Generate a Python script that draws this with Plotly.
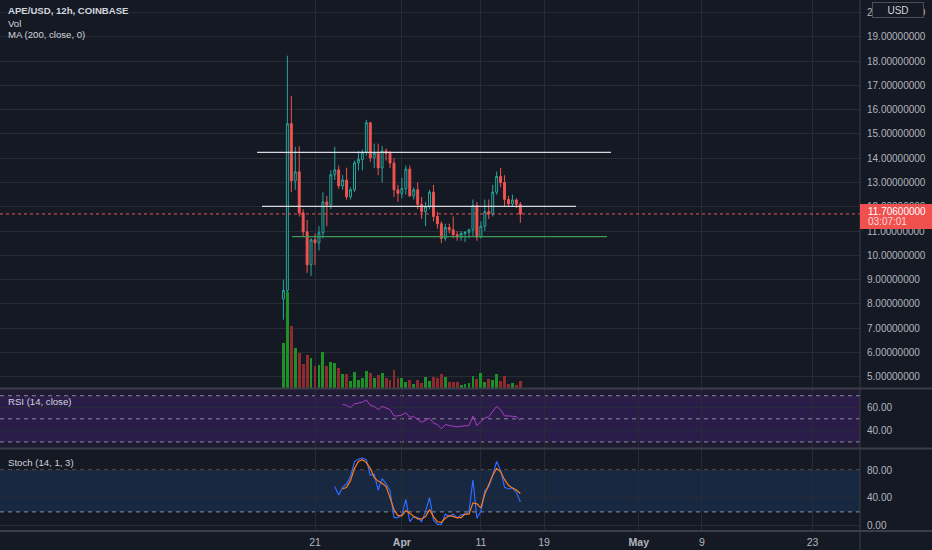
import plotly.graph_objects as go
import pandas as pd

# ---------------- data ----------------
times = pd.date_range("2022-03-17 00:00", periods=61, freq="12h")

opens = [8.20, 8.55, 15.42, 13.07, 13.44, 11.75, 10.97, 9.61, 10.64, 10.52,
         10.93, 12.20, 12.08, 13.32, 13.52, 12.86, 13.10, 12.41, 12.70, 13.81,
         13.95, 14.25, 15.46, 14.02, 14.20, 13.60, 14.30, 14.20, 13.80, 12.70,
         12.55, 12.75, 13.55, 12.45, 12.70, 12.10, 11.80, 12.00, 12.60, 11.60,
         11.30, 10.70, 11.15, 11.05, 10.85, 10.75, 10.90, 10.95, 11.05, 12.05,
         10.75, 11.20, 11.80, 11.70, 12.60, 13.25, 13.00, 12.30, 12.12, 12.28,
         12.10]
highs = [9.00, 18.22, 16.57, 14.47, 14.50, 11.90, 11.46, 10.70, 10.90, 11.20,
         12.60, 12.45, 13.50, 14.47, 13.70, 13.30, 13.61, 12.80, 13.90, 14.30,
         14.35, 15.58, 15.50, 14.60, 14.60, 14.50, 14.40, 14.30, 14.00, 12.90,
         13.20, 13.70, 13.70, 12.80, 13.00, 12.40, 12.20, 12.70, 12.90, 11.80,
         11.40, 11.30, 11.30, 11.60, 11.00, 11.00, 11.00, 11.10, 12.30, 12.20,
         11.40, 12.30, 12.30, 12.90, 13.45, 13.60, 13.30, 12.45, 12.50, 12.35,
         12.20]
lows = [7.35, 8.40, 12.60, 12.70, 11.60, 10.80, 9.28, 9.15, 9.60, 10.20,
        10.70, 11.20, 11.90, 13.10, 12.75, 12.70, 12.29, 12.30, 12.60, 13.50,
        13.50, 14.10, 13.85, 13.60, 13.30, 13.00, 13.90, 13.60, 12.40, 12.20,
        12.35, 12.50, 12.40, 12.30, 11.90, 11.50, 11.20, 11.90, 11.40, 11.10,
        10.50, 10.60, 10.90, 10.70, 10.60, 10.60, 10.55, 10.70, 10.80, 10.60,
        10.70, 11.00, 11.50, 11.60, 12.50, 12.80, 12.00, 12.00, 12.00, 11.95,
        11.34]
closes = [8.55, 15.42, 13.07, 13.44, 11.75, 10.97, 9.61, 10.64, 10.52, 10.93,
          12.20, 12.08, 13.32, 13.52, 12.86, 13.10, 12.41, 12.70, 13.81, 13.95,
          14.25, 15.46, 14.02, 14.20, 13.60, 14.30, 14.20, 13.80, 12.70, 12.55,
          12.75, 13.55, 12.45, 12.70, 12.10, 11.80, 12.00, 12.60, 11.60, 11.30,
          10.70, 11.15, 11.05, 10.85, 10.75, 10.90, 10.95, 11.05, 12.05, 10.75,
          11.20, 11.80, 11.70, 12.60, 13.25, 13.00, 12.30, 12.12, 12.28, 12.10,
          11.706]
volumes = [4.5, 9.6, 6.2, 4.0, 3.5, 2.4, 3.3, 3.0, 2.2, 2.3,
           3.6, 2.2, 2.6, 2.5, 2.0, 1.4, 1.4, 0.7, 1.6, 0.8,
           1.0, 1.7, 1.5, 1.0, 1.3, 1.5, 1.0, 0.8, 1.8, 1.0,
           1.0, 0.6, 0.8, 0.4, 0.8, 0.5, 1.1, 0.7, 1.1, 1.0,
           1.4, 1.1, 0.6, 0.6, 0.6, 0.3, 0.4, 0.5, 1.2, 0.9,
           1.5, 0.6, 0.9, 0.8, 1.4, 0.7, 1.2, 0.4, 0.5, 0.3,
           0.7]

rsi_start = 15
rsi_values = [62.5, 61.7, 59.7, 63.0, 63.6, 64.4, 66.4, 61.7, 60.8, 58.0,
              60.8, 59.7, 58.0, 52.5, 52.5, 53.3, 55.3, 51.4, 51.9, 49.7,
              47.0, 48.6, 50.6, 46.4, 45.0, 41.4, 45.0, 44.2, 43.6, 43.0,
              43.6, 44.2, 44.2, 52.5, 44.2, 47.8, 50.6, 51.9, 56.1, 60.8,
              58.0, 52.5, 52.5, 52.5, 51.9, 48.6]

stoch_k_start = 13
stoch_k = [56.3, 44.4, 55.3, 60.3, 71.1, 92.3, 95.8, 97.3, 94.8, 72.6,
           74.1, 51.4, 67.7, 60.3, 50.4, 11.9, 11.9, 15.8, 38.0, 5.9,
           13.3, 11.9, 5.9, 20.7, 40.5, 8.4, 2.0, 2.0, 16.8, 13.3,
           16.8, 10.9, 15.8, 16.8, 20.7, 66.2, 10.9, 20.7, 50.4, 56.3,
           72.6, 92.3, 80.0, 55.3, 52.9, 54.4, 47.9, 34.5]
stoch_d_start = 15
stoch_d = [52.9, 55.3, 65.2, 82.5, 92.3, 94.8, 90.8, 82.5, 69.2, 64.2,
           61.2, 56.3, 40.5, 23.2, 14.8, 14.8, 21.8, 18.2, 13.3, 9.9,
           9.9, 13.3, 23.2, 13.3, 5.9, 4.9, 10.9, 14.8, 13.3, 11.9,
           11.9, 16.8, 16.8, 33.0, 31.6, 25.7, 45.5, 60.3, 72.6, 82.5,
           77.5, 66.2, 58.2, 54.4, 51.4, 46.4]

price_ticks = [5, 6, 7, 8, 9, 10, 11, 12, 13, 14, 15, 16, 17, 18, 19, 20]
rsi_ticks = [40, 60]
stoch_ticks = [0, 40, 80]
date_ticks = ["2022-03-21", "2022-04-01", "2022-04-11", "2022-04-19",
              "2022-05-01", "2022-05-09", "2022-05-23"]
date_labels = ["21", "<b>Apr</b>", "11", "19", "<b>May</b>", "9", "23"]

last_price = 11.706
countdown = "03:07:01"

# drawn horizontal levels: (start, end, price, colour)
level_starts = ["2022-03-13 16:00", "2022-03-14 07:00", "2022-03-18 02:00"]
level_ends = ["2022-04-27 11:30", "2022-04-23 01:00", "2022-04-26 23:30"]
level_prices = [14.24, 12.02, 10.77]
level_colors = ["#d8dae0", "#d8dae0", "#3d9b55"]

# ---------------- style ----------------
BG = "#151924"
GRID = "#272b36"
TXT = "#b2b5be"
LEG = "#d1d4dc"
UP = "#26a69a"
DN = "#ef5350"
FONT = "Liberation Sans, Arial, sans-serif"

W, H = 932, 550
ML, MR, MT, MB = 0, 72, 0, 19
PW, PH = W - ML - MR, H - MT - MB

main_dom = [0.2684, 1.0]
rsi_dom = [0.1554, 0.2684]
sto_dom = [0.0, 0.1554]
price_rng = [4.518, 20.515]
rsi_rng = [24.3, 76.3]
sto_rng = [-7.4, 111.0]
vol_rng = [0, 38.85]
x_rng = ["2022-02-09 02:40", "2022-05-29 00:15"]


def paper_y(v, dom, rng):
    return dom[0] + (v - rng[0]) / (rng[1] - rng[0]) * (dom[1] - dom[0])


def py_px(px):
    return 1 - px / PH


fig = go.Figure()

vol_colors = ["#1f8f27" if c >= o else "#8f2a2d" for o, c in zip(opens, closes)]
fig.add_trace(go.Bar(x=times, y=volumes, marker_color=vol_colors, marker_line_width=0,
                     width=12 * 3600 * 1000 * 0.72, xaxis="x", yaxis="y2",
                     hoverinfo="skip", showlegend=False))

fig.add_trace(go.Candlestick(
    x=times, open=opens, high=highs, low=lows, close=closes,
    increasing=dict(line=dict(color=UP, width=1), fillcolor=BG),
    decreasing=dict(line=dict(color=DN, width=1), fillcolor=DN),
    whiskerwidth=0, xaxis="x", yaxis="y", showlegend=False))

fig.add_trace(go.Scatter(x=times[rsi_start:rsi_start + len(rsi_values)], y=rsi_values,
                         mode="lines", line=dict(color="#a93fc0", width=1),
                         xaxis="x2", yaxis="y3", showlegend=False))

fig.add_trace(go.Scatter(x=times[stoch_k_start:stoch_k_start + len(stoch_k)], y=stoch_k,
                         mode="lines", line=dict(color="#2f6bff", width=1.2),
                         xaxis="x3", yaxis="y4", showlegend=False))
fig.add_trace(go.Scatter(x=times[stoch_d_start:stoch_d_start + len(stoch_d)], y=stoch_d,
                         mode="lines", line=dict(color="#ff7a1a", width=1.2),
                         xaxis="x3", yaxis="y4", showlegend=False))

shapes = []
# indicator bands
shapes.append(dict(type="rect", xref="paper", yref="paper", x0=0, x1=1,
                   y0=rsi_dom[0], y1=rsi_dom[1], fillcolor="#1e1b33", line_width=0, layer="below"))
shapes.append(dict(type="rect", xref="paper", yref="paper", x0=0, x1=1,
                   y0=paper_y(30, rsi_dom, rsi_rng), y1=paper_y(70, rsi_dom, rsi_rng),
                   fillcolor="#2a1d4a", line_width=0, layer="below"))
shapes.append(dict(type="rect", xref="paper", yref="paper", x0=0, x1=1,
                   y0=paper_y(20, sto_dom, sto_rng), y1=paper_y(80, sto_dom, sto_rng),
                   fillcolor="#182840", line_width=0, layer="below"))
for v in [70, 50, 30]:
    yy = paper_y(v, rsi_dom, rsi_rng)
    shapes.append(dict(type="line", xref="paper", yref="paper", x0=0, x1=1, y0=yy, y1=yy,
                       line=dict(color="#8a8d96", width=1, dash="4px,4px"), layer="below"))
for v in [80, 20]:
    yy = paper_y(v, sto_dom, sto_rng)
    shapes.append(dict(type="line", xref="paper", yref="paper", x0=0, x1=1, y0=yy, y1=yy,
                       line=dict(color="#8a8d96", width=1, dash="4px,4px"), layer="below"))

# drawn levels
for s, e, p, c in zip(level_starts, level_ends, level_prices, level_colors):
    shapes.append(dict(type="line", xref="x", yref="y", x0=s, x1=e, y0=p, y1=p,
                       line=dict(color=c, width=1.3)))

# last price dotted line
lp = paper_y(last_price, main_dom, price_rng)
shapes.append(dict(type="line", xref="paper", yref="paper", x0=0, x1=1, y0=lp, y1=lp,
                   line=dict(color=DN, width=1, dash="dot")))

# panel separators
for yy in [main_dom[0], rsi_dom[0], 0]:
    shapes.append(dict(type="line", xref="paper", yref="paper", x0=0, x1=W / PW, y0=yy, y1=yy,
                       line=dict(color="#3a3e49", width=2)))
shapes.append(dict(type="line", xref="paper", yref="paper", x0=1, x1=1, y0=-MB / PH, y1=1,
                   line=dict(color="#3a3e49", width=1)))

# price label box
shapes.append(dict(type="rect", xref="paper", yref="paper", x0=1.0, x1=W / PW,
                   y0=py_px(229), y1=py_px(204), fillcolor="#f0514f", line_width=0))

annotations = []
annotations.append(dict(xref="paper", yref="paper", x=866 / PW, y=py_px(212),
                        text="11.70600000", showarrow=False, xanchor="left", yanchor="middle",
                        font=dict(family=FONT, size=10, color="#ffffff")))
annotations.append(dict(xref="paper", yref="paper", x=866 / PW, y=py_px(222),
                        text=countdown, showarrow=False, xanchor="left", yanchor="middle",
                        font=dict(family=FONT, size=10, color="#ffd6d6")))
annotations.append(dict(xref="paper", yref="paper", x=898 / PW, y=py_px(10),
                        text="USD", showarrow=False, xanchor="center", yanchor="middle",
                        bgcolor=BG, bordercolor="#4a4e59",
                        borderwidth=1, borderpad=1, width=48, height=12,
                        font=dict(family=FONT, size=10, color=LEG)))
legend_items = [("<b>APE/USD, 12h, COINBASE</b>", 11, 9.6), ("Vol", 23, 9.6),
                ("MA (200, close, 0)", 34.5, 9.6),
                ("RSI (14, close)", 401, 9.6), ("Stoch (14, 1, 3)", 462, 9.6)]
for t, yp, fs in legend_items:
    annotations.append(dict(xref="paper", yref="paper", x=6 / PW, y=py_px(yp), text=t,
                            showarrow=False, xanchor="left", yanchor="middle",
                            font=dict(family=FONT, size=fs, color=LEG)))

xcommon = dict(type="date", range=x_rng, tickvals=date_ticks, ticktext=date_labels,
               showgrid=True, gridcolor=GRID, gridwidth=1, zeroline=False, showline=False,
               ticks="", fixedrange=True, rangeslider=dict(visible=False))
ycommon = dict(side="right", showgrid=True, gridcolor=GRID, gridwidth=1, zeroline=False,
               showline=False, ticks="", ticklabelstandoff=6,
               tickfont=dict(family=FONT, size=10, color=TXT))

fig.update_layout(
    width=W, height=H, margin=dict(l=ML, r=MR, t=MT, b=MB),
    paper_bgcolor=BG, plot_bgcolor=BG, showlegend=False, bargap=0,
    xaxis=dict(**xcommon, anchor="y", showticklabels=False),
    xaxis2=dict(**xcommon, anchor="y3", matches="x", showticklabels=False),
    xaxis3=dict(**xcommon, anchor="y4", matches="x", showticklabels=True,
                tickfont=dict(family=FONT, size=10.5, color=TXT), ticklabelstandoff=3),
    yaxis=dict(**ycommon, domain=main_dom, range=price_rng, tickvals=price_ticks,
               ticktext=["%.8f" % v for v in price_ticks], anchor="x"),
    yaxis2=dict(overlaying="y", range=vol_rng, visible=False, anchor="x"),
    yaxis3=dict(**ycommon, domain=rsi_dom, range=rsi_rng, tickvals=rsi_ticks,
                ticktext=["%.2f" % v for v in rsi_ticks], anchor="x2"),
    yaxis4=dict(**ycommon, domain=sto_dom, range=sto_rng, tickvals=stoch_ticks,
                ticktext=["%.2f" % v for v in stoch_ticks], anchor="x3"),
    shapes=shapes, annotations=annotations,
)

fig.write_html("out.html", config={"displayModeBar": False},
               post_script="document.body.style.margin='0';document.body.style.padding='0';"
                           "document.body.style.overflow='hidden';"
                           "document.body.style.background='" + BG + "';")
